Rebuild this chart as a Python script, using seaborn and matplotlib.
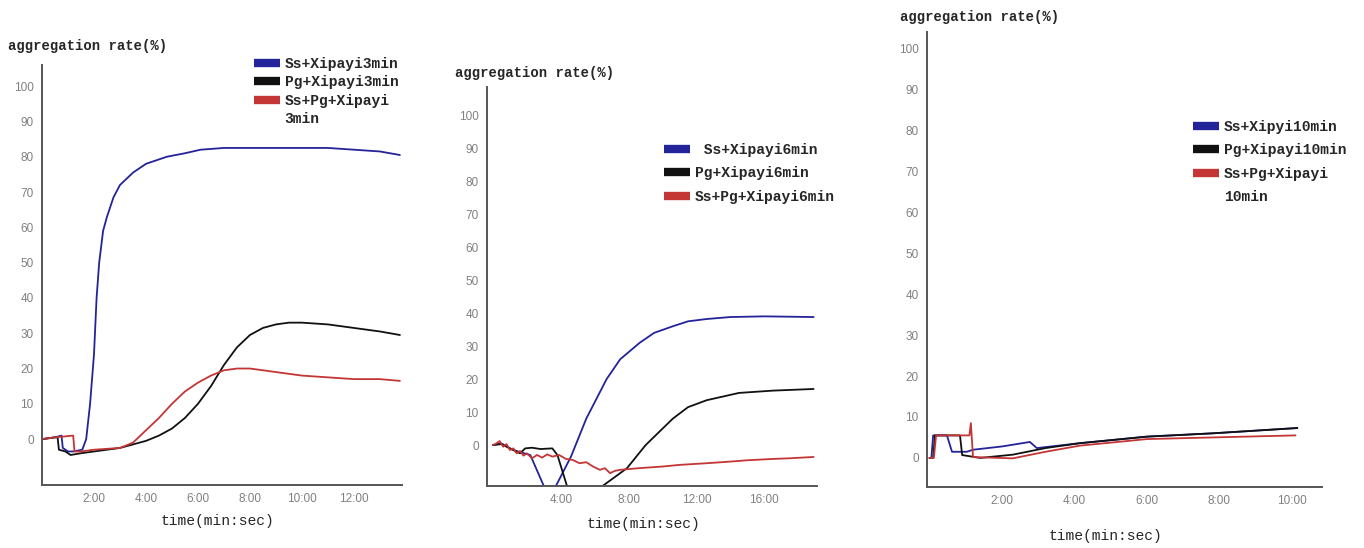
import pandas as pd
import seaborn as sns
import matplotlib.pyplot as plt
from matplotlib.lines import Line2D

# ---- data (time in minutes, value in %) ----
# panel 1: 3 min
p1_blue_t = [0, 0.5, 0.75, 0.8, 1.0, 1.2, 1.55, 1.7, 1.85, 2.0, 2.1, 2.2, 2.35, 2.5, 2.75, 3.0, 3.5,
             4.0, 4.8, 5.5, 6.1, 7, 8, 9, 10, 11, 12, 13, 13.77]
p1_blue_v = [0, 0.5, 1, -2.5, -3.5, -3.5, -3, 0, 10, 24, 40, 50, 59, 63, 68.5, 72, 75.5,
             78, 80, 81, 82, 82.5, 82.5, 82.5, 82.5, 82.5, 82, 81.5, 80.5]
p1_black_t = [0, 0.5, 0.6, 0.65, 0.9, 1.1, 1.5, 2, 3, 3.5, 4, 4.5, 5, 5.5, 6, 6.5, 7, 7.5, 8, 8.5,
              9, 9.5, 10, 11, 12, 13, 13.77]
p1_black_v = [0, 0.5, 0.5, -3, -3.5, -4.5, -4, -3.5, -2.5, -1.5, -0.5, 1, 3, 6, 10, 15, 21, 26, 29.5,
              31.5, 32.5, 33, 33, 32.5, 31.5, 30.5, 29.5]
p1_red_t = [0, 0.5, 1.2, 1.25, 1.5, 2, 3, 3.5, 4, 4.5, 5, 5.5, 6, 6.5, 7, 7.5, 8, 9, 10, 11, 12, 13, 13.77]
p1_red_v = [0, 0.5, 1, -3.5, -3.5, -3, -2.5, -1, 2.5, 6, 10, 13.5, 16, 18, 19.5, 20, 20, 19, 18, 17.5,
            17, 17, 16.5]

# panel 2: 6 min
p2_blue_t = [0, 0.5, 1, 1.5, 2.2, 3.05, 3.65, 4.6, 5.5, 6.7, 7.5, 8.65, 9.5, 10.6, 11.5, 12.6, 14, 16, 18.9]
p2_blue_v = [0, 0.5, -1, -2, -3, -13, -13, -3.5, 8, 20, 26, 31, 34, 36, 37.5, 38.2, 38.8, 39, 38.8]
p2_black_t = [0, 0.5, 1, 1.6, 1.9, 2.3, 2.8, 3.5, 3.8, 4.4, 6.3, 7.9, 9, 10.6, 11.5, 12.6, 14.5, 16.5, 18.9]
p2_black_v = [0, 0.3, -1, -2.5, -1, -0.8, -1.2, -1, -3, -13, -13, -7, 0, 8, 11.5, 13.6, 15.8, 16.5, 17]
p2_red_t = [0, 0.2, 0.4, 0.6, 0.8, 1.0, 1.2, 1.4, 1.6, 1.8, 2.0, 2.3, 2.6, 2.9, 3.2, 3.5, 3.9, 4.3,
            4.7, 5.1, 5.5, 5.9, 6.3, 6.6, 6.9, 7.2, 7.5, 8.6, 10, 11, 12.6, 14, 15, 16.5, 17.5, 18.9]
p2_red_v = [0, 0.5, 1.2, -0.5, 0.3, -1.5, -1, -2.5, -1.8, -3.2, -2.5, -4, -3, -3.8, -2.8, -3.5, -3, -4.2,
            -4.5, -5.5, -5.2, -6.5, -7.5, -7, -8.5, -7.8, -7.5, -7, -6.5, -6, -5.5, -5, -4.6, -4.2, -4, -3.6]

# panel 3: 10 min
p3_blue_t = [0, 0.05, 0.1, 0.48, 0.62, 1.03, 1.2, 2.0, 2.77, 2.96, 4.15, 6, 7.8, 10.15]
p3_blue_v = [0, 0, 5.5, 5.5, 1.5, 1.5, 2, 2.8, 3.9, 2.4, 3.6, 5.2, 6, 7.3]
p3_black_t = [0, 0.1, 0.15, 0.84, 0.9, 1.4, 2.3, 3.2, 4.15, 6, 7.8, 10.15]
p3_black_v = [0, 0, 5.5, 5.5, 0.7, 0, 0.8, 2.4, 3.6, 5.2, 6, 7.3]
p3_red_t = [0, 0.12, 0.18, 1.1, 1.14, 1.2, 2.3, 3.2, 4.15, 6, 7.8, 10.1]
p3_red_v = [0, 0, 5.5, 5.5, 8.5, 0.2, -0.1, 1.5, 3, 4.6, 5, 5.5]

# legend entries; a trailing entry without a colour is the wrapped second line
labels1 = ['Ss+Xipayi3min', 'Pg+Xipayi3min', 'Ss+Pg+Xipayi', '3min']
labels2 = [' Ss+Xipayi6min', 'Pg+Xipayi6min', 'Ss+Pg+Xipayi6min']
labels3 = ['Ss+Xipyi10min', 'Pg+Xipayi10min', 'Ss+Pg+Xipayi', '10min']
ticks1 = ['2:00', '4:00', '6:00', '8:00', '10:00', '12:00']
ticks2 = ['4:00', '8:00', '12:00', '16:00']
ticks3 = ['2:00', '4:00', '6:00', '8:00', '10:00']

colors = ['#23239a', '#111111', '#c43535']

sns.set_style('white')
mono = 'Liberation Mono'
plt.rcParams['font.family'] = ['Liberation Sans', 'DejaVu Sans']

fig = plt.figure(figsize=(13.64, 5.48), dpi=100)


def make_df(series):
    frames = []
    for i, (t, v) in enumerate(series):
        frames.append(pd.DataFrame({'t': t, 'v': v, 's': i}))
    return pd.concat(frames, ignore_index=True)


def panel(rect, series, labels, tick_pos, tick_lab, xlim, ylim, leg_xy, spacing, ylab_xy, xlab_xy):
    ax = fig.add_axes(rect)
    df = make_df(series)
    sns.lineplot(data=df, x='t', y='v', hue='s', palette=colors, estimator=None,
                 sort=False, legend=False, linewidth=1.3, ax=ax)
    ax.set_xlim(*xlim)
    ax.set_ylim(*ylim)
    ax.set_yticks(range(0, 101, 10))
    ax.set_xticks(tick_pos)
    ax.set_xticklabels(tick_lab)
    ax.set_xlabel('')
    ax.set_ylabel('')
    for s in ['top', 'right']:
        ax.spines[s].set_visible(False)
    for s in ['left', 'bottom']:
        ax.spines[s].set_color('#555555')
        ax.spines[s].set_linewidth(1.4)
    ax.tick_params(direction='in', length=3, width=1, color='#777777',
                   labelsize=8.5, labelcolor='#808080', pad=6)
    handles = [Line2D([], [], color=c, lw=6, solid_capstyle='butt') for c in colors]
    if len(labels) > 3:
        handles.append(Line2D([], [], color='none', lw=6))
    leg = ax.legend(handles, labels, loc='upper left', bbox_to_anchor=leg_xy,
                    bbox_transform=fig.transFigure, frameon=False, handlelength=1.8,
                    handletextpad=0.3, labelspacing=spacing, borderaxespad=0, borderpad=0,
                    prop={'family': mono, 'size': 10.5, 'weight': 'bold'})
    if len(labels) > 3:
        leg.get_texts()[3].set_y(0)
    fig.text(ylab_xy[0], ylab_xy[1], 'aggregation rate(%)', family=mono,
             fontweight='bold', fontsize=10, ha='left', va='center')
    fig.text(xlab_xy[0], xlab_xy[1], 'time(min:sec)', family=mono,
             fontsize=10.5, ha='center', va='center')
    return ax


W, H = 1364, 548

panel([42 / W, 1 - 485 / H, 360 / W, 420 / H],
      [(p1_blue_t, p1_blue_v), (p1_black_t, p1_black_v), (p1_red_t, p1_red_v)],
      labels1, [2, 4, 6, 8, 10, 12], ticks1, (0, 13.85), (-13, 106),
      (254 / W, 1 - 57 / H), 0.3, (8 / W, 1 - 46 / H), (217 / W, 1 - 521 / H))

panel([487 / W, 1 - 486 / H, 330 / W, 399 / H],
      [(p2_blue_t, p2_blue_v), (p2_black_t, p2_black_v), (p2_red_t, p2_red_v)],
      labels2, [4, 8, 12, 16], ticks2, (-0.35, 19.1), (-12.4, 108.5),
      (664 / W, 1 - 143 / H), 0.65, (455 / W, 1 - 73 / H), (643 / W, 1 - 524 / H))

panel([927 / W, 1 - 487 / H, 395 / W, 455 / H],
      [(p3_blue_t, p3_blue_v), (p3_black_t, p3_black_v), (p3_red_t, p3_red_v)],
      labels3, [2, 4, 6, 8, 10], ticks3, (-0.07, 10.83), (-7.1, 104),
      (1193 / W, 1 - 120 / H), 0.65, (900 / W, 1 - 17 / H), (1105 / W, 1 - 536 / H))

fig.savefig('out.png', dpi=100)
